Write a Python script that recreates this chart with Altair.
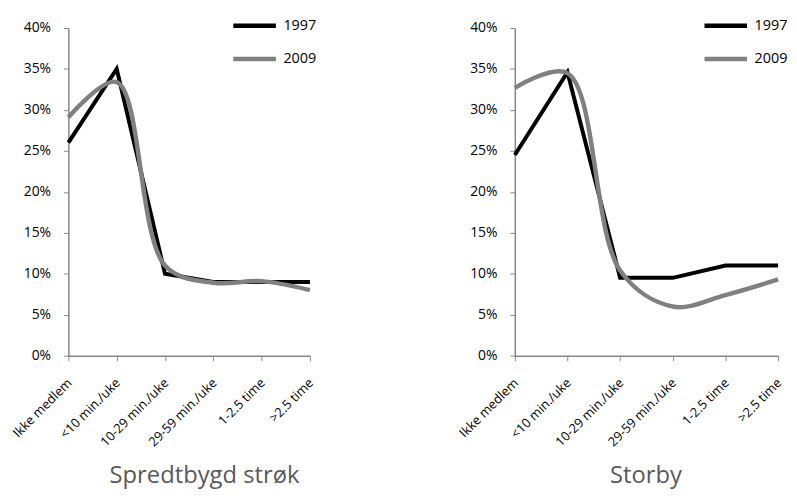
import altair as alt
import pandas as pd

categories = ["Ikke medlem", "<10 min./uke", "10-29 min./uke", "29-59 min./uke", "1-2.5 time", ">2.5 time"]
years = ["1997", "2009"]
spredtbygd_1997 = [26.0, 35.0, 10.0, 9.0, 9.0, 9.0]
spredtbygd_2009 = [29.1, 33.4, 11.0, 8.9, 9.1, 8.0]
storby_1997 = [24.5, 34.6, 9.5, 9.5, 11.0, 11.0]
storby_2009 = [32.7, 34.5, 10.4, 6.0, 7.4, 9.3]
y_ticks = [0, 5, 10, 15, 20, 25, 30, 35, 40]
panel_titles = ["Spredtbygd strøk", "Storby"]

FONT = "Open Sans"


def make_df(v97, v09):
    rows = []
    for c, a, b in zip(categories, v97, v09):
        rows.append({"kategori": c, "aar": "1997", "verdi": a})
        rows.append({"kategori": c, "aar": "2009", "verdi": b})
    return pd.DataFrame(rows)


def panel(df, width, title, title_x, legend_x):
    base = alt.Chart(df).encode(
        x=alt.X(
            "kategori:N",
            sort=categories,
            scale=alt.Scale(type="point", padding=0),
            axis=alt.Axis(
                title=title,
                titleX=title_x,
                titleY=128.5,
                titleFontSize=24,
                titleColor="#595959",
                titleFontWeight="normal",
                titleFont=FONT,
                titleBaseline="alphabetic",
                titleAlign="center",
                labelAngle=-45,
                labelAlign="right",
                labelBaseline="middle",
                labelPadding=20,
                labelOffset=1,
                labelFont=FONT,
                labelFontSize=13,
                labelColor="#000000",
                tickSize=5,
                tickColor="#868686",
                domainColor="#868686",
                domainWidth=1.5,
                grid=False,
            ),
        ),
        y=alt.Y(
            "verdi:Q",
            scale=alt.Scale(domain=[0, 40], nice=False),
            axis=alt.Axis(
                values=y_ticks,
                labelExpr="datum.value + '%'",
                title=None,
                grid=False,
                labelFont=FONT,
                labelFontSize=14,
                labelColor="#000000",
                labelPadding=13,
                tickSize=5,
                tickColor="#868686",
                domainColor="#868686",
                domainWidth=1.5,
            ),
        ),
        color=alt.Color(
            "aar:N",
            scale=alt.Scale(domain=years, range=["#000000", "#808080"]),
            legend=alt.Legend(
                title=None,
                orient="none",
                legendX=legend_x,
                legendY=-10.25,
                direction="vertical",
                symbolType="M-4,0H4",
                symbolStrokeWidth=4.5,
                symbolSize=115.5,
                symbolOpacity=1,
                labelFont=FONT,
                labelFontSize=14.5,
                labelColor="#000000",
                labelOffset=21.1,
                rowPadding=15.5,
            ),
        ),
    )
    l97 = base.transform_filter(alt.datum.aar == "1997").mark_line(
        strokeWidth=4, interpolate="linear", strokeJoin="miter"
    )
    l09 = base.transform_filter(alt.datum.aar == "2009").mark_line(
        strokeWidth=4.5, interpolate="catmull-rom"
    )
    return alt.layer(l97, l09).properties(width=width, height=331)


left = panel(make_df(spredtbygd_1997, spredtbygd_2009), 244, panel_titles[0], 137, 180.125)
right = panel(make_df(storby_1997, storby_2009), 266, panel_titles[1], 132, 205.125)

chart = (
    alt.hconcat(left, right, spacing=139)
    .resolve_legend(color="independent")
    .resolve_scale(color="independent")
    .properties(padding={"left": 2, "top": 6.75, "right": 0, "bottom": 1.5})
    .configure_view(stroke=None)
)

chart.save("out.html", embed_options={"renderer": "svg", "actions": False})
